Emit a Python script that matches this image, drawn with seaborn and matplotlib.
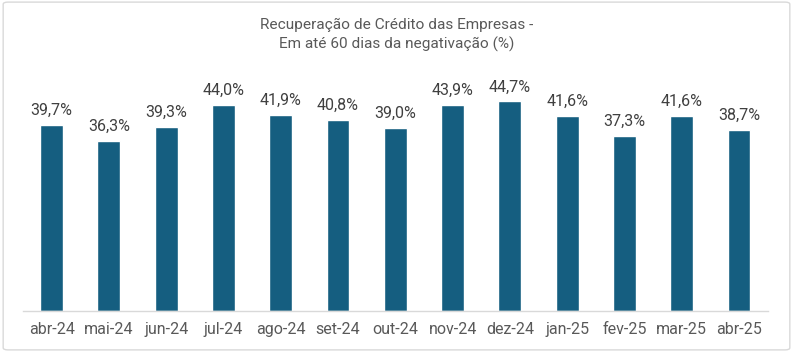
import pandas as pd
import matplotlib.pyplot as plt
import seaborn as sns
from matplotlib.patches import FancyBboxPatch

# Dados do gráfico
meses = ['abr-24', 'mai-24', 'jun-24', 'jul-24', 'ago-24', 'set-24', 'out-24',
         'nov-24', 'dez-24', 'jan-25', 'fev-25', 'mar-25', 'abr-25']
recuperacao = [39.7, 36.3, 39.3, 44.0, 41.9, 40.8, 39.0, 43.9, 44.7, 41.6, 37.3, 41.6, 38.7]

data = pd.DataFrame({'mes': meses, 'valor': recuperacao})

sns.set_style('white')
plt.rcParams['font.family'] = ['Roboto', 'DejaVu Sans']

fig = plt.figure(figsize=(7.93, 3.52), dpi=100)
ax = fig.add_axes([0.029, 0.1165, 0.939, 0.666])

sns.barplot(x='mes', y='valor', data=data, color='#155e80', width=0.4,
            saturation=1, ax=ax)

for i, v in enumerate(recuperacao):
    ax.annotate(f'{v:.1f}%'.replace('.', ','), (i, v), xytext=(0, 5),
                textcoords='offset points', ha='center', va='bottom',
                fontsize=11.5, color='#404040')

ax.set_ylim(0, 50)
ax.set_xlim(-0.5, len(meses) - 0.5)
ax.set_xlabel('')
ax.set_ylabel('')
ax.set_yticks([])
ax.tick_params(axis='x', length=0, pad=8, labelsize=11.5, labelcolor='#595959')
for side in ['top', 'left', 'right']:
    ax.spines[side].set_visible(False)
ax.spines['bottom'].set_color('#d9d9d9')
ax.spines['bottom'].set_linewidth(1)

fig.text(0.5, 0.9, 'Recuperação de Crédito das Empresas -\nEm até 60 dias da negativação (%)',
         ha='center', va='center', fontsize=11.1, color='#595959', linespacing=1.4)

# moldura
fig.patches.append(FancyBboxPatch((0.004, 0.006), 0.992, 0.988,
                                  boxstyle='round,pad=0,rounding_size=0.006',
                                  transform=fig.transFigure, fill=False,
                                  edgecolor='#d9d9d9', linewidth=1))

plt.savefig('out.png', dpi=100)
